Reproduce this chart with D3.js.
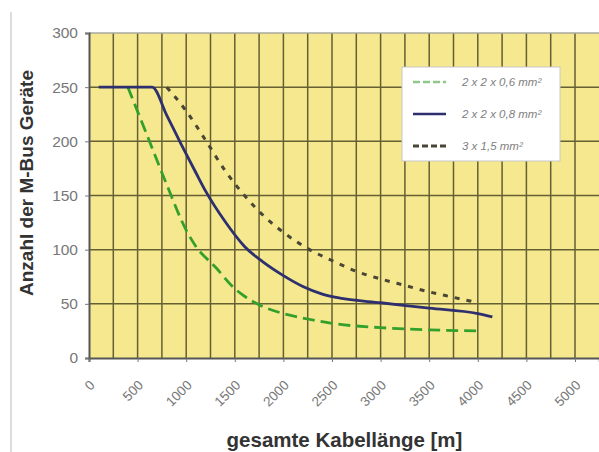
<!DOCTYPE html>
<html>
<head>
<meta charset="utf-8">
<script src="https://cdn.jsdelivr.net/npm/d3@7"></script>
<style>
  body { margin: 0; background: #fff; }
  svg { display: block; font-family: Arial, "Liberation Sans", sans-serif; }
</style>
</head>
<body>
<div id="chart"></div>
<script>
// Werte (Kabellänge in m, Anzahl Geräte)
const series06 = [[400,250],[600,205],[800,160],[1000,118],[1100,103],[1300,84],[1500,64],[1600,57],[1800,47],[2000,41],[2250,36],[2500,32],[3000,28],[3500,26],[4000,25]];
const series08 = [[100,250],[650,250],[800,224],[950,197],[1100,171],[1200,154],[1400,126],[1600,103],[1800,88],[2000,76],[2200,66],[2400,59],[2600,55],[3000,51],[3500,46],[4000,41],[4150,38]];
const series15 = [[800,250],[1000,228],[1200,201],[1400,173],[1600,150],[1800,131],[2000,116],[2250,101],[2500,90],[2750,80],[3000,73],[3250,67],[3500,61],[3750,56],[4000,51]];
const legendLabels = ["2 x 2 x 0,6 mm²", "2 x 2 x 0,8 mm²", "3 x 1,5 mm²"];
const xTicks = [0,500,1000,1500,2000,2500,3000,3500,4000,4500,5000];
const yTicks = [0,50,100,150,200,250,300];

const W = 599, H = 452;
const svg = d3.select("#chart").append("svg")
    .attr("width", W)
    .attr("height", H);

// linker grauer Rand
svg.append("line")
    .attr("x1", 11).attr("x2", 11)
    .attr("y1", 12).attr("y2", H)
    .attr("stroke", "#dcdcdc")
    .attr("stroke-width", 2);

let x = d3.scaleLinear().domain([0, 5250]).range([89, 599.3]);
let y = d3.scaleLinear().domain([0, 300]).range([358, 33]);

// Hintergrund
svg.append("rect")
    .attr("x", x(0)).attr("y", y(300))
    .attr("width", x(5250) - x(0))
    .attr("height", y(0) - y(300))
    .attr("fill", "#f6e88e");

// Gitter
let vGrid = d3.range(250, 5250, 250);
svg.append("g").selectAll("line")
    .data(vGrid)
    .enter().append("line")
    .attr("x1", d => x(d)).attr("x2", d => x(d))
    .attr("y1", y(300)).attr("y2", y(0))
    .attr("stroke", "#655f34")
    .attr("stroke-width", 1.5);

svg.append("g").selectAll("line")
    .data(yTicks.slice(1))
    .enter().append("line")
    .attr("x1", x(0)).attr("x2", x(5250))
    .attr("y1", d => y(d)).attr("y2", d => y(d))
    .attr("stroke", d => d == 300 ? "#a8a8a0" : "#655f34")
    .attr("stroke-width", 1.5);

// Achsen
svg.append("g")
    .attr("transform", "translate(" + x(0) + ",0)")
    .call(d3.axisLeft(y).tickValues(yTicks).tickSize(4).tickPadding(7))
    .call(g => g.select(".domain").attr("stroke", "#555").attr("stroke-width", 2))
    .call(g => g.selectAll(".tick line").attr("stroke", "#777"))
    .call(g => g.selectAll("text").attr("font-size", 15.5).attr("fill", "#777"));

let xAxis = svg.append("g")
    .attr("transform", "translate(0," + y(0) + ")")
    .call(d3.axisBottom(x).tickValues(xTicks).tickFormat(d3.format("d")).tickSize(4));
xAxis.select(".domain").attr("stroke", "#555").attr("stroke-width", 2);
xAxis.selectAll(".tick line").attr("stroke", "#777");
xAxis.selectAll("text")
    .attr("font-size", 13.5)
    .attr("fill", "#777")
    .attr("text-anchor", "end")
    .attr("x", 0).attr("y", 0).attr("dy", 0)
    .attr("transform", "translate(6,28) rotate(-45)");

// Kurven
let line = d3.line()
    .x(d => x(d[0]))
    .y(d => y(d[1]))
    .curve(d3.curveMonotoneX);

svg.append("path")
    .datum(series06)
    .attr("d", line)
    .attr("fill", "none")
    .attr("stroke", "#34a02c")
    .attr("stroke-width", 2.8)
    .attr("stroke-dasharray", "12,6");

svg.append("path")
    .datum(series08)
    .attr("d", line)
    .attr("fill", "none")
    .attr("stroke", "#2d2f6e")
    .attr("stroke-width", 2.8);

svg.append("path")
    .datum(series15)
    .attr("d", line)
    .attr("fill", "none")
    .attr("stroke", "#4a4636")
    .attr("stroke-width", 3)
    .attr("stroke-dasharray", "5,7");

// Legende
let legend = svg.append("g");
legend.append("rect")
    .attr("x", 402).attr("y", 67)
    .attr("width", 158).attr("height", 94)
    .attr("fill", "#fff")
    .attr("stroke", "#c8c8c8");

let legStyles = [
    { color: "#8fc98a", dash: "7,3", w: 2.6 },
    { color: "#2d2f6e", dash: null, w: 2.6 },
    { color: "#4a4636", dash: "6,3", w: 3 }
];
legendLabels.forEach(function (label, i) {
    let ly = 82 + i * 32;
    legend.append("line")
        .attr("x1", 413).attr("x2", 446)
        .attr("y1", ly).attr("y2", ly)
        .attr("stroke", legStyles[i].color)
        .attr("stroke-width", legStyles[i].w)
        .attr("stroke-dasharray", legStyles[i].dash);
    legend.append("text")
        .attr("x", 462).attr("y", ly + 4)
        .attr("font-size", 11.5)
        .attr("font-style", "italic")
        .attr("fill", "#808080")
        .text(label);
});

// Achsentitel
svg.append("text")
    .attr("transform", "translate(33,183) rotate(-90)")
    .attr("text-anchor", "middle")
    .attr("font-size", 19)
    .attr("font-weight", "bold")
    .attr("fill", "#333")
    .text("Anzahl der M-Bus Geräte");

svg.append("text")
    .attr("x", 344.5).attr("y", 447)
    .attr("text-anchor", "middle")
    .attr("font-size", 20.5)
    .attr("font-weight", "bold")
    .attr("fill", "#333")
    .text("gesamte Kabellänge [m]");
</script>
</body>
</html>
